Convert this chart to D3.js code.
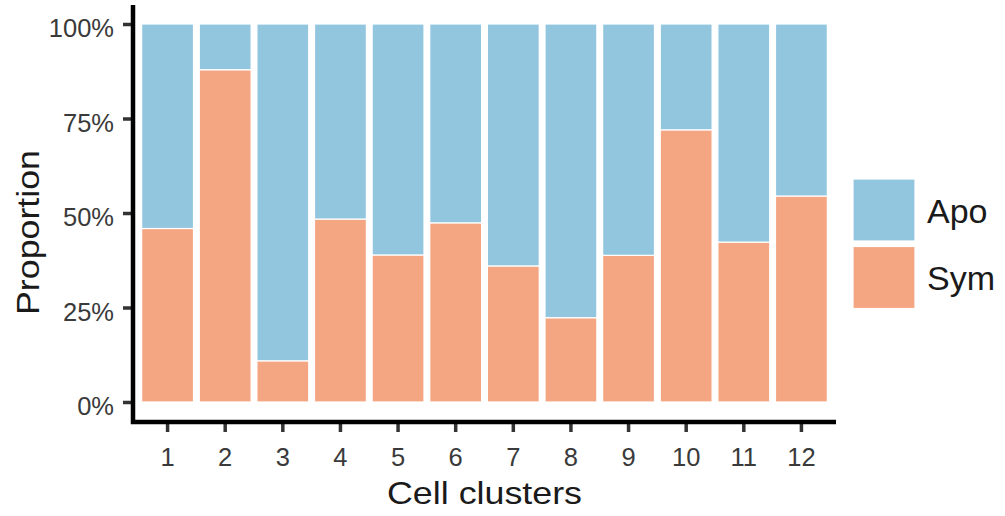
<!doctype html>
<html lang="en">
<head>
  <meta charset="utf-8">
  <title>Cell clusters proportion</title>
  <script src="https://cdn.jsdelivr.net/npm/d3@7"></script>
  <style>
    body { margin: 0; background: #fff; }
    svg { display: block; font-family: "Liberation Sans", Arial, sans-serif; }
    .tick text { fill: #3a3a3a; font-size: 25.5px; font-family: "Liberation Sans", Arial, sans-serif; }
    .tick line { stroke: #333; stroke-width: 3.5px; }
  </style>
</head>
<body>
  <svg width="1005" height="516"></svg>
  <script>
    // data
    var clusters = ["1", "2", "3", "4", "5", "6", "7", "8", "9", "10", "11", "12"];
    var symShare = [0.459, 0.879, 0.109, 0.484, 0.389, 0.474, 0.360, 0.223, 0.388, 0.720, 0.423, 0.545];
    var apoShare = [0.541, 0.121, 0.891, 0.516, 0.611, 0.526, 0.640, 0.777, 0.612, 0.280, 0.577, 0.455];
    var groups = ["Sym", "Apo"];     // bottom to top
    var legendOrder = ["Apo", "Sym"];
    var yTicks = [0, 0.25, 0.5, 0.75, 1];

    var rows = clusters.map(function (c, i) {
      return { cluster: c, Sym: symShare[i], Apo: apoShare[i] };
    });

    var svg = d3.select("svg");

    var panelLeft = 133, panelRight = 836, panelTop = 5, panelBottom = 422;

    var x = d3.scaleBand()
      .domain(clusters)
      .range([panelLeft, panelRight])
      .paddingInner(0.1)
      .paddingOuter(0.15);

    var y = d3.scaleLinear()
      .domain([0, 1])
      .range([402, 24]);

    var color = d3.scaleOrdinal()
      .domain(["Apo", "Sym"])
      .range(["#92c5de", "#f4a582"]);

    var layers = d3.stack().keys(groups)(rows);

    svg.append("g")
      .selectAll("g")
      .data(layers)
      .join("g")
      .attr("fill", function (d) { return color(d.key); })
      .selectAll("rect")
      .data(function (d) { return d; })
      .join("rect")
      .attr("x", function (d) { return x(d.data.cluster); })
      .attr("width", x.bandwidth())
      .attr("y", function (d) { return y(d[1]); })
      .attr("height", function (d) { return y(d[0]) - y(d[1]); })
      .attr("stroke", "#fff")
      .attr("stroke-width", 1.2);

    // y axis
    var yAxis = svg.append("g")
      .attr("transform", "translate(" + panelLeft + ",0)")
      .call(d3.axisLeft(y).tickValues(yTicks).tickFormat(d3.format(".0%")).tickSize(10).tickPadding(9));
    yAxis.select(".domain").remove();
    yAxis.selectAll("text").attr("dy", "0.5em");

    // x axis
    var xAxis = svg.append("g")
      .attr("transform", "translate(0," + panelBottom + ")")
      .call(d3.axisBottom(x).tickSize(10).tickPadding(16));
    xAxis.select(".domain").remove();

    // axis lines
    svg.append("path")
      .attr("d", "M" + panelLeft + "," + panelTop + "V" + panelBottom + "H" + panelRight)
      .attr("fill", "none")
      .attr("stroke", "#000")
      .attr("stroke-width", 4.5)
      .attr("stroke-linejoin", "miter");

    // titles
    svg.append("text")
      .attr("x", (panelLeft + panelRight) / 2)
      .attr("y", 504)
      .attr("text-anchor", "middle")
      .attr("font-size", 32)
      .attr("textLength", 195)
      .attr("lengthAdjust", "spacingAndGlyphs")
      .attr("fill", "#1a1a1a")
      .text("Cell clusters");

    svg.append("text")
      .attr("transform", "translate(38.5,232.5) rotate(-90)")
      .attr("text-anchor", "middle")
      .attr("font-size", 32)
      .attr("textLength", 165)
      .attr("lengthAdjust", "spacingAndGlyphs")
      .attr("fill", "#1a1a1a")
      .text("Proportion");

    // legend
    var legend = svg.append("g")
      .selectAll("g")
      .data(legendOrder)
      .join("g")
      .attr("transform", function (d, i) { return "translate(853," + (179 + i * 67.5) + ")"; });

    legend.append("rect")
      .attr("width", 62)
      .attr("height", 62)
      .attr("fill", function (d) { return color(d); })
      .attr("stroke", "#fff")
      .attr("stroke-width", 1.2);

    legend.append("text")
      .attr("x", 74)
      .attr("y", 43.5)
      .attr("font-size", 34)
      .attr("fill", "#1a1a1a")
      .text(function (d) { return d; });
  </script>
</body>
</html>
